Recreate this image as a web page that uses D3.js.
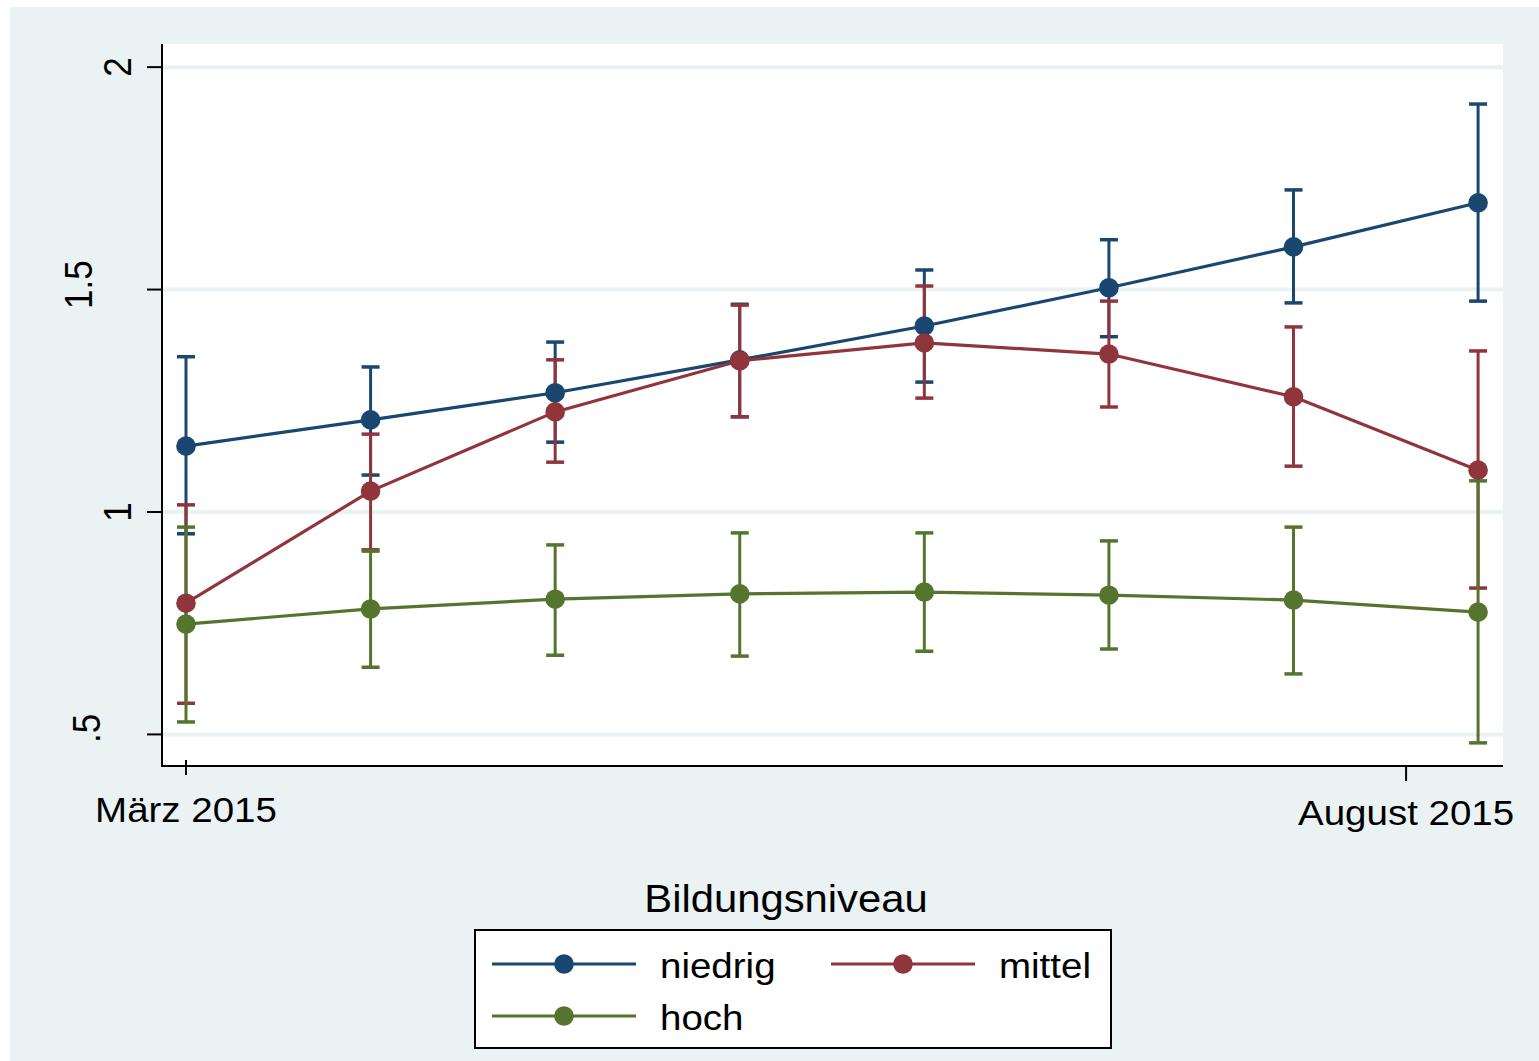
<!DOCTYPE html>
<html>
<head>
<meta charset="utf-8">
<script src="https://cdn.jsdelivr.net/npm/d3@7"></script>
<style>
  html, body { margin: 0; padding: 0; background: #ffffff; }
  svg text { font-family: "Liberation Sans", Arial, Helvetica, sans-serif; fill: #000; }
</style>
</head>
<body>
<svg id="chart" width="1539" height="1061"></svg>
<script>
// survey waves (index along the x axis)
var waves = [0, 1, 2, 3, 4, 5, 6, 7];

// x axis tick labels and where they sit on the wave index scale
var xTickPos = [0, 6.61];
var xTickLabels = ['März 2015', 'August 2015'];

var yTicks = [0.5, 1, 1.5, 2];
var yTickLabels = ['.5', '1', '1.5', '2'];

var seriesNames = ['niedrig', 'mittel', 'hoch'];
var seriesColors = ['#1a476f', '#90353b', '#55752f'];

// means and confidence bounds per education level
var niedrigMean = [1.148, 1.207, 1.268, 1.342, 1.418, 1.504, 1.596, 1.695];
var niedrigHi   = [1.349, 1.326, 1.382, 1.467, 1.544, 1.612, 1.724, 1.917];
var niedrigLo   = [0.951, 1.083, 1.157, 1.214, 1.292, 1.394, 1.470, 1.474];

var mittelMean = [0.795, 1.047, 1.225, 1.340, 1.380, 1.355, 1.259, 1.094];
var mittelHi   = [1.016, 1.175, 1.342, 1.465, 1.508, 1.474, 1.416, 1.362];
var mittelLo   = [0.570, 0.915, 1.112, 1.214, 1.256, 1.236, 1.103, 0.829];

var hochMean = [0.748, 0.782, 0.804, 0.816, 0.820, 0.813, 0.802, 0.775];
var hochHi   = [0.966, 0.912, 0.926, 0.953, 0.953, 0.935, 0.966, 1.070];
var hochLo   = [0.528, 0.651, 0.678, 0.676, 0.687, 0.692, 0.636, 0.481];

var series = [
  { name: seriesNames[0], color: seriesColors[0], mean: niedrigMean, hi: niedrigHi, lo: niedrigLo },
  { name: seriesNames[1], color: seriesColors[1], mean: mittelMean, hi: mittelHi, lo: mittelLo },
  { name: seriesNames[2], color: seriesColors[2], mean: hochMean, hi: hochHi, lo: hochLo }
];

var svg = d3.select('#chart');
var bg = '#eaf2f3';
var stretch = 1.1; // text in the original is a bit wider than normal

// outer graph region
svg.append('rect').attr('x', 10).attr('y', 7).attr('width', 1529).attr('height', 1054).attr('fill', bg);

var plot = { left: 162, right: 1503, top: 44, bottom: 766 };

var x = d3.scaleLinear().domain([-0.13, 7.135]).range([plot.left, plot.right]);
var y = d3.scaleLinear().domain([0.429, 2.052]).range([plot.bottom, plot.top]);

// plot region
svg.append('rect')
  .attr('x', plot.left).attr('y', plot.top)
  .attr('width', plot.right - plot.left).attr('height', plot.bottom - plot.top)
  .attr('fill', '#ffffff');

// grid lines
svg.append('g').selectAll('line').data(yTicks).enter().append('line')
  .attr('x1', plot.left).attr('x2', plot.right)
  .attr('y1', function (d) { return y(d); })
  .attr('y2', function (d) { return y(d); })
  .attr('stroke', bg).attr('stroke-width', 4);

// error bars first, so the connected lines are drawn over them
series.forEach(function (s) {
  var g = svg.append('g').attr('class', 'ci').attr('stroke', s.color).attr('stroke-width', 3);
  g.selectAll('line.bar').data(waves).enter().append('line')
    .attr('class', 'bar')
    .attr('x1', function (i) { return x(i); })
    .attr('x2', function (i) { return x(i); })
    .attr('y1', function (i) { return y(s.hi[i]); })
    .attr('y2', function (i) { return y(s.lo[i]); });
  ['hi', 'lo'].forEach(function (k) {
    g.selectAll('line.cap-' + k).data(waves).enter().append('line')
      .attr('class', 'cap-' + k)
      .attr('x1', function (i) { return x(i) - 9; })
      .attr('x2', function (i) { return x(i) + 9; })
      .attr('y1', function (i) { return y(s[k][i]); })
      .attr('y2', function (i) { return y(s[k][i]); })
      .attr('stroke-width', 3.5);
  });
});

var line = d3.line()
  .x(function (i) { return x(i); });

series.forEach(function (s) {
  var g = svg.append('g').attr('class', 'series');
  g.append('path')
    .datum(waves)
    .attr('d', line.y(function (i) { return y(s.mean[i]); }))
    .attr('fill', 'none').attr('stroke', s.color).attr('stroke-width', 3.2);
  g.selectAll('circle').data(waves).enter().append('circle')
    .attr('cx', function (i) { return x(i); })
    .attr('cy', function (i) { return y(s.mean[i]); })
    .attr('r', 9.8)
    .attr('fill', s.color);
});

// axes
var axes = svg.append('g').attr('stroke', '#000').attr('stroke-width', 2);
axes.append('line').attr('x1', plot.left).attr('x2', plot.left).attr('y1', plot.top).attr('y2', plot.bottom + 1);
axes.append('line').attr('x1', plot.left - 1).attr('x2', plot.right).attr('y1', plot.bottom).attr('y2', plot.bottom);

axes.selectAll('line.ytick').data(yTicks).enter().append('line')
  .attr('class', 'ytick')
  .attr('x1', plot.left - 15).attr('x2', plot.left)
  .attr('y1', function (d) { return y(d); })
  .attr('y2', function (d) { return y(d); });

// the two x ticks sit at slightly different heights in the original
var xTickTop = [-6, 0];
var xLabelBase = [822, 825];
axes.selectAll('line.xtick').data(xTickPos).enter().append('line')
  .attr('class', 'xtick')
  .attr('x1', function (d) { return x(d); })
  .attr('x2', function (d) { return x(d); })
  .attr('y1', function (d, i) { return plot.bottom + xTickTop[i]; })
  .attr('y2', function (d, i) { return plot.bottom + xTickTop[i] + 15; });

// rotated y labels; the decimal ones are pushed further left in the original
var yLabelBaseX = [100, 131, 92, 131];
var yLabelShift = [-6, 0, -5, 0];
svg.append('g').selectAll('text').data(yTicks).enter().append('text')
  .attr('transform', function (d, i) {
    return 'translate(' + yLabelBaseX[i] + ',' + (y(d) + yLabelShift[i]) + ') scale(' + stretch + ',1) rotate(-90)';
  })
  .attr('text-anchor', 'middle')
  .attr('font-size', 35)
  .text(function (d, i) { return yTickLabels[i]; });

svg.append('g').selectAll('text').data(xTickPos).enter().append('text')
  .attr('transform', function (d, i) { return 'translate(' + x(d) + ',' + xLabelBase[i] + ') scale(' + stretch + ',1)'; })
  .attr('text-anchor', 'middle')
  .attr('font-size', 35)
  .text(function (d, i) { return xTickLabels[i]; });

// legend
svg.append('text')
  .attr('transform', 'translate(786,912) scale(' + stretch + ',1)')
  .attr('text-anchor', 'middle')
  .attr('font-size', 38)
  .text('Bildungsniveau');

svg.append('rect')
  .attr('x', 475).attr('y', 930).attr('width', 636).attr('height', 118)
  .attr('fill', '#ffffff').attr('stroke', '#000').attr('stroke-width', 2);

var legendPos = [
  { x: 492, y: 964 },
  { x: 831, y: 964 },
  { x: 492, y: 1016 }
];

var items = svg.append('g').selectAll('g').data(series).enter().append('g')
  .attr('transform', function (d, i) { return 'translate(' + legendPos[i].x + ',' + legendPos[i].y + ')'; });

items.append('line')
  .attr('x1', 0).attr('x2', 144).attr('y1', 0).attr('y2', 0)
  .attr('stroke', function (d) { return d.color; }).attr('stroke-width', 3.2);
items.append('circle')
  .attr('cx', 72).attr('cy', 0).attr('r', 9.8)
  .attr('fill', function (d) { return d.color; });
items.append('text')
  .attr('transform', 'translate(168,14) scale(' + stretch + ',1)')
  .attr('font-size', 35)
  .text(function (d) { return d.name; });
</script>
</body>
</html>
